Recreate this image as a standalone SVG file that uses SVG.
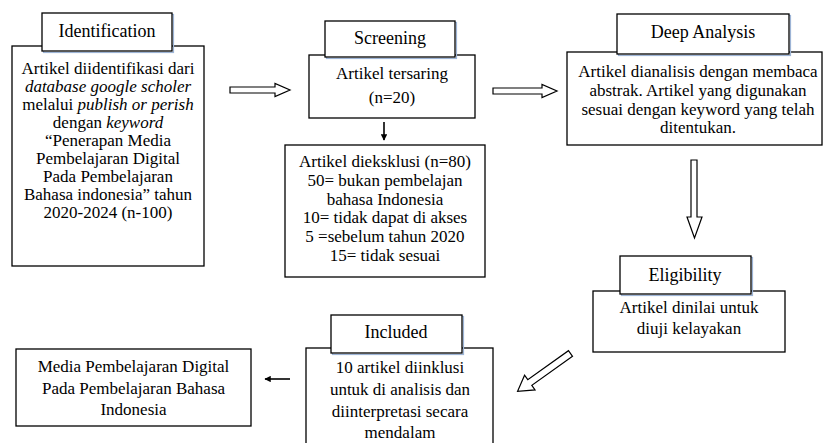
<svg xmlns="http://www.w3.org/2000/svg" width="824" height="443" viewBox="0 0 824 443">
<style>
text{font-family:'Liberation Serif','Times New Roman',Times,'DejaVu Serif',serif;fill:#000;text-anchor:middle}
.b{font-size:17px}
.l{font-size:18px}
.box{fill:#fff;stroke:#000;stroke-width:1.3}
.lab{fill:#fff;stroke:#000;stroke-width:1.3}
.blue{fill:none;stroke:#9db4d6;stroke-width:1.2}
.hol{fill:#fff;stroke:#000;stroke-width:1.2;stroke-linejoin:miter}
.sol{fill:none;stroke:#000;stroke-width:1.6}
.it{font-style:italic}
</style>
<defs>
<marker id="ah" viewBox="0 0 10 10" refX="9" refY="5" markerWidth="4" markerHeight="4" orient="auto">
<path d="M0,0 L10,5 L0,10 Z" fill="#000"/>
</marker>
</defs>
<rect width="824" height="443" fill="#fff"/>

<g id="identification">
<rect class="box" x="12" y="46" width="192" height="220"/>
<rect class="blue" x="43.5" y="14.5" width="130" height="38"/>
<rect class="lab" x="42" y="13" width="130" height="38"/>
<text class="l" x="107" y="37">Identification</text>
<text class="b" x="108" y="74">Artikel diidentifikasi dari</text>
<text class="b it" x="108" y="92">database google scholer</text>
<text class="b" x="108" y="110">melalui <tspan class="it">publish or perish</tspan></text>
<text class="b" x="108" y="128">dengan <tspan class="it">keyword</tspan></text>
<text class="b" x="108" y="146">“Penerapan Media</text>
<text class="b" x="108" y="164">Pembelajaran Digital</text>
<text class="b" x="108" y="182">Pada Pembelajaran</text>
<text class="b" x="108" y="200">Bahasa indonesia” tahun</text>
<text class="b" x="108" y="218">2020-2024 (n-100)</text>
</g>

<g id="screening">
<rect class="box" x="309" y="55" width="166" height="63"/>
<rect class="blue" x="326.5" y="22.5" width="130" height="36"/>
<rect class="lab" x="325" y="21" width="130" height="36"/>
<text class="l" x="390" y="44">Screening</text>
<text class="b" x="392" y="79">Artikel tersaring</text>
<text class="b" x="392" y="103">(n=20)</text>
</g>

<g id="excluded">
<rect class="box" x="285" y="145" width="200" height="132"/>
<text class="b" x="385" y="167">Artikel dieksklusi (n=80)</text>
<text class="b" x="385" y="186">50= bukan pembelajan</text>
<text class="b" x="385" y="205">bahasa Indonesia</text>
<text class="b" x="385" y="223">10= tidak dapat di akses</text>
<text class="b" x="385" y="242">5 =sebelum tahun 2020</text>
<text class="b" x="385" y="261">15= tidak sesuai</text>
</g>

<g id="deep-analysis">
<rect class="box" x="567" y="52" width="255" height="93"/>
<rect class="blue" x="618.5" y="15.5" width="172" height="40"/>
<rect class="lab" x="617" y="14" width="172" height="40"/>
<text class="l" x="703" y="38">Deep Analysis</text>
<text class="b" x="698" y="77">Artikel dianalisis dengan membaca</text>
<text class="b" x="698" y="96">abstrak. Artikel yang digunakan</text>
<text class="b" x="698" y="115">sesuai dengan keyword yang telah</text>
<text class="b" x="698" y="133">ditentukan.</text>
</g>

<g id="eligibility">
<rect class="box" x="593" y="291" width="192" height="61"/>
<rect class="blue" x="621.5" y="257.5" width="131" height="38"/>
<rect class="lab" x="620" y="256" width="131" height="38"/>
<text class="l" x="685" y="281">Eligibility</text>
<text class="b" x="689" y="313">Artikel dinilai untuk</text>
<text class="b" x="689" y="334">diuji kelayakan</text>
</g>

<g id="included">
<rect class="box" x="306" y="348" width="187" height="110"/>
<rect class="blue" x="332.5" y="316.5" width="131" height="38"/>
<rect class="lab" x="331" y="315" width="131" height="38"/>
<text class="l" x="396" y="338">Included</text>
<text class="b" x="400" y="373">10 artikel diinklusi</text>
<text class="b" x="400" y="395">untuk di analisis dan</text>
<text class="b" x="400" y="417">diinterpretasi secara</text>
<text class="b" x="400" y="438">mendalam</text>
</g>

<g id="result">
<rect class="box" x="16" y="349" width="235" height="77"/>
<text class="b" x="133.5" y="372">Media Pembelajaran Digital</text>
<text class="b" x="133.5" y="394">Pada Pembelajaran Bahasa</text>
<text class="b" x="133.5" y="415">Indonesia</text>
</g>

<g id="connectors">
<polygon class="hol" points="230,87 275,87 275,83.5 290,90 275,96.5 275,93 230,93"/>
<polygon class="hol" points="493,88 542,88 542,84.5 557,91 542,97.5 542,94 493,94"/>
<polygon class="hol" points="691,160 697,160 697,217 702,217 694.5,238 687,217 691,217"/>
<polygon class="hol" transform="translate(570.5,353.5) rotate(144.5)" points="0,-3.5 50,-3.5 50,-9 65,0 50,9 50,3.5 0,3.5"/>
<line class="sol" x1="384" y1="122" x2="384" y2="140" marker-end="url(#ah)"/>
<line class="sol" x1="290" y1="379" x2="265" y2="379" marker-end="url(#ah)"/>
</g>
</svg>
